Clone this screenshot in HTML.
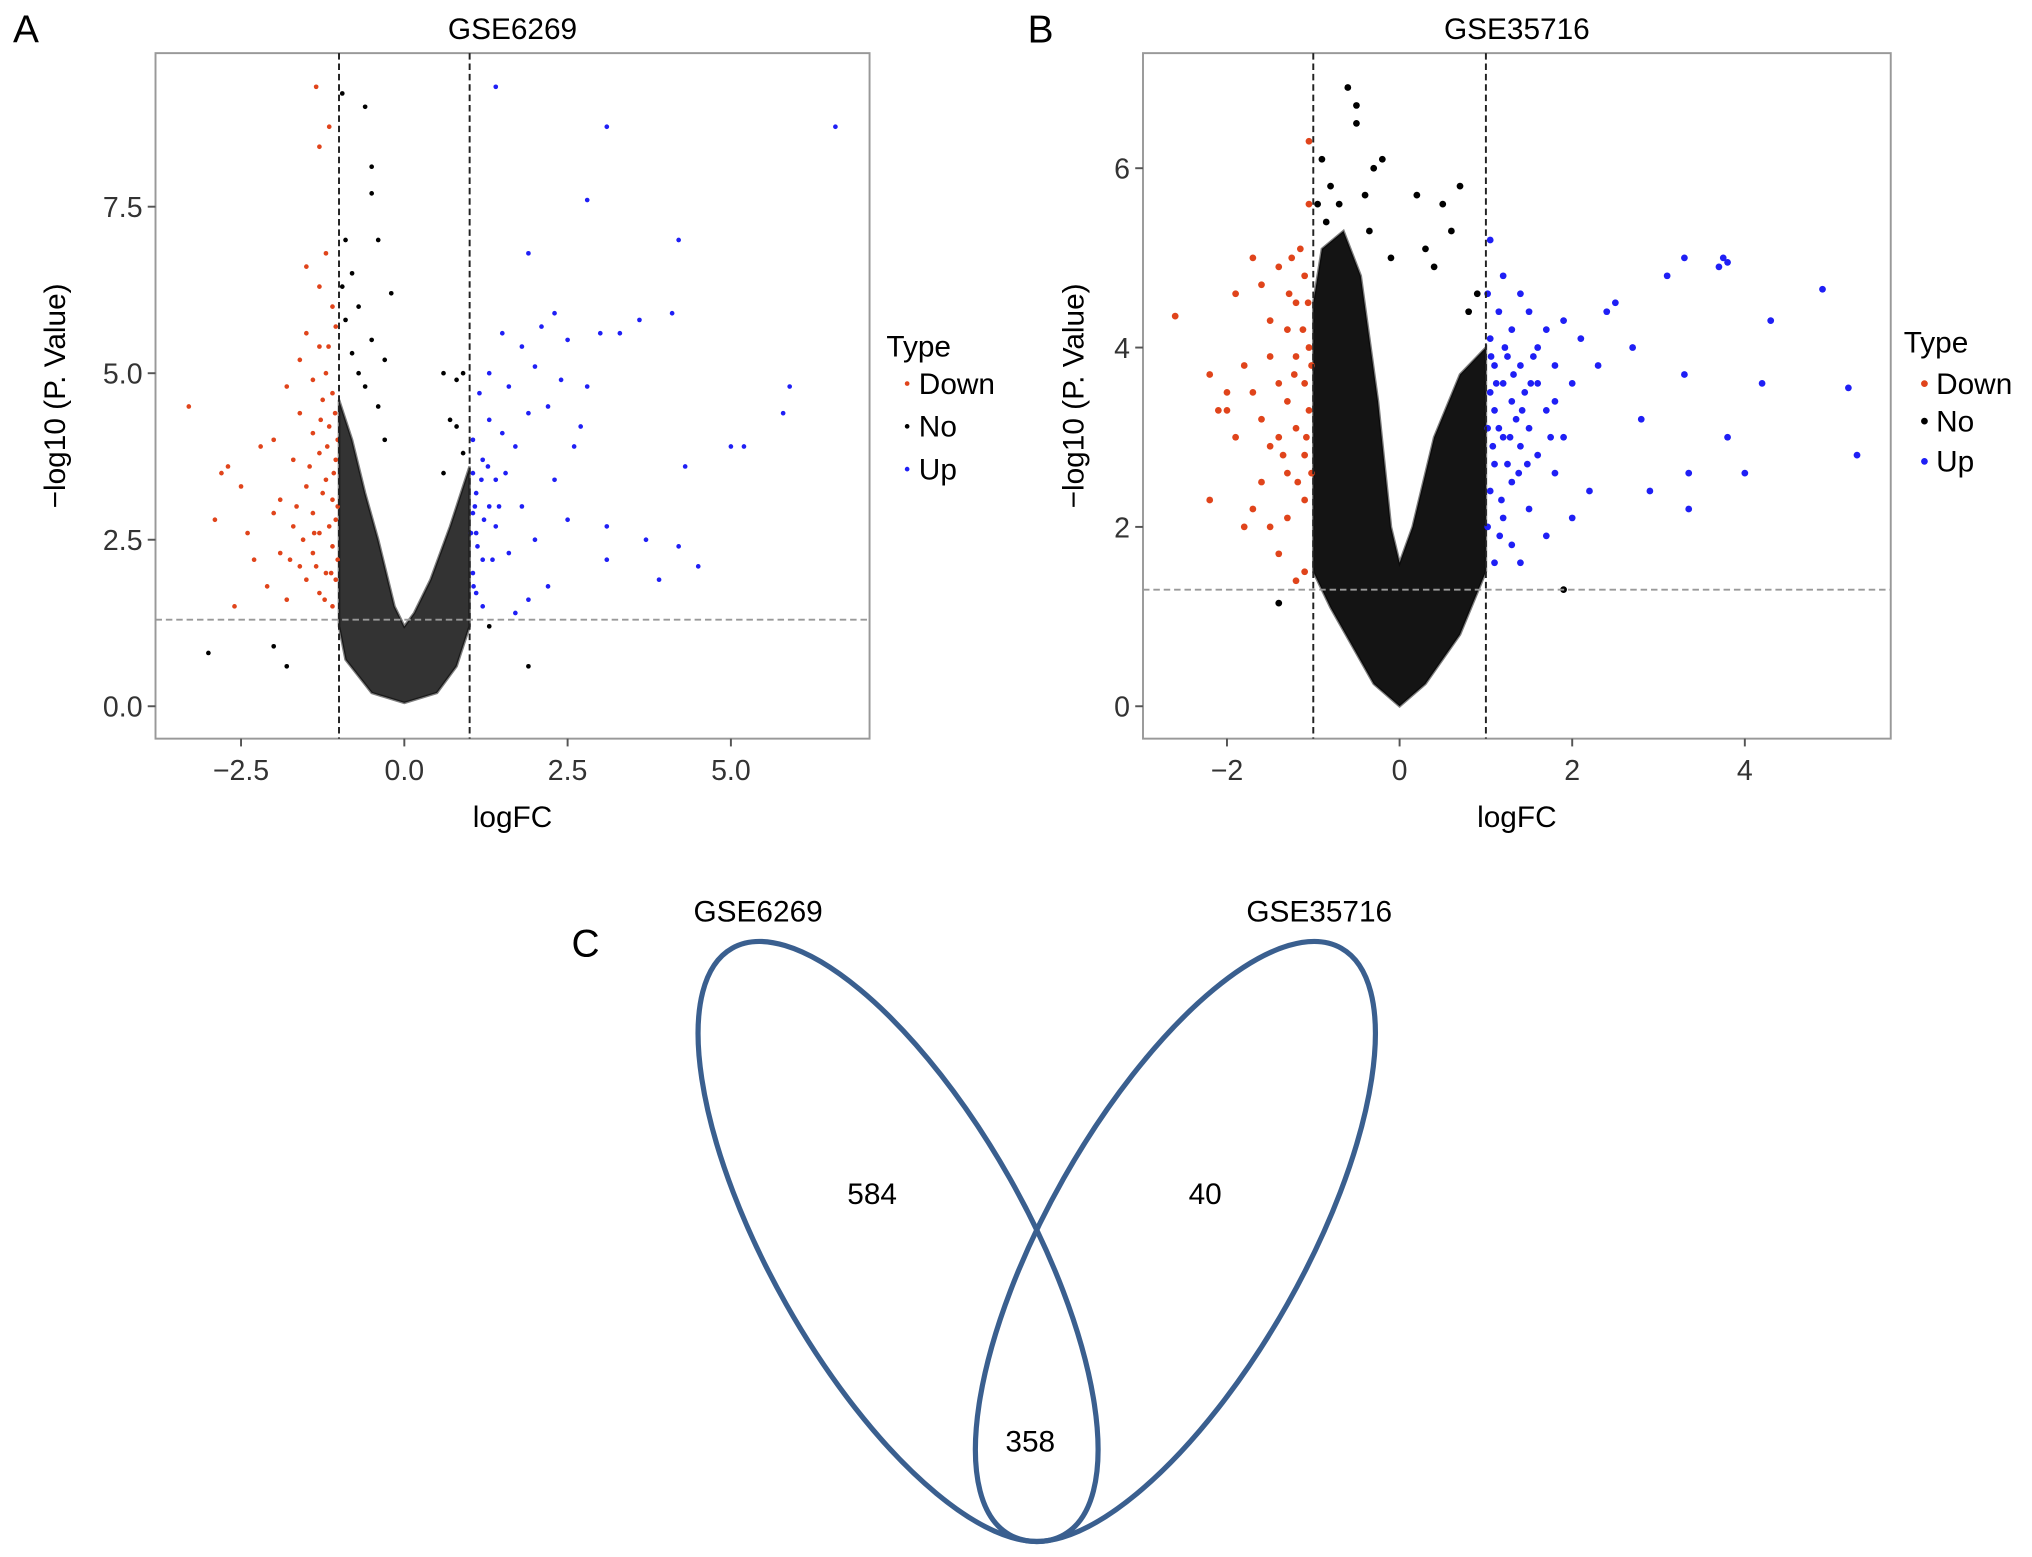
<!DOCTYPE html>
<html><head><meta charset="utf-8"><style>
html,body{margin:0;padding:0;background:#fff}
svg{display:block;font-family:"Liberation Sans",sans-serif}
</style></head><body>
<svg id="fig" width="2032" height="1557" viewBox="0 0 1568 1201.5" preserveAspectRatio="none" xmlns="http://www.w3.org/2000/svg">
<rect width="1568" height="1202" fill="#fff"/>
<g id="pA"></g>
<g id="pB"></g>
<text x="10" y="33" font-size="30">A</text>
<text x="793" y="33" font-size="30">B</text>
<text x="441" y="738" font-size="30">C</text>
<g>
<ellipse cx="693" cy="958" rx="99" ry="260" transform="rotate(-29.5 693 958)" fill="none" stroke="#3a5f8f" stroke-width="4"/>
<ellipse cx="907" cy="958" rx="99" ry="260" transform="rotate(29.5 907 958)" fill="none" stroke="#3a5f8f" stroke-width="4"/>
<text x="585" y="711" font-size="23" text-anchor="middle">GSE6269</text>
<text x="1018" y="711" font-size="23" text-anchor="middle">GSE35716</text>
<text x="673" y="929" font-size="23" text-anchor="middle">584</text>
<text x="930" y="929" font-size="23" text-anchor="middle">40</text>
<text x="795" y="1120" font-size="23" text-anchor="middle">358</text>
</g>
</svg>
<script>
// ---- Panel A data (GSE6269) ----
const aXTicks=[-2.5,0,2.5,5];
const aXTickLabels=["−2.5","0.0","2.5","5.0"];
const aYTicks=[0,2.5,5,7.5];
const aYTickLabels=["0.0","2.5","5.0","7.5"];
const aDown=[[-3.3,4.5],[-2.9,2.8],[-2.8,3.5],[-2.7,3.6],[-2.6,1.5],[-2.5,3.3],[-2.4,2.6],[-2.3,2.2],[-2.2,3.9],[-2.1,1.8],[-2.0,2.9],[-2.0,4.0],[-1.9,3.1],[-1.9,2.3],[-1.8,4.8],[-1.8,1.6],[-1.7,3.7],[-1.7,2.7],[-1.6,5.2],[-1.6,4.4],[-1.6,2.1],[-1.5,6.6],[-1.5,5.6],[-1.5,3.3],[-1.5,1.9],[-1.4,4.9],[-1.4,4.1],[-1.4,2.9],[-1.4,2.3],[-1.35,9.3],[-1.3,8.4],[-1.3,6.3],[-1.3,5.4],[-1.3,3.8],[-1.3,2.6],[-1.3,1.7],[-1.25,4.6],[-1.2,6.8],[-1.2,5.0],[-1.2,3.4],[-1.2,2.0],[-1.15,8.7],[-1.15,4.2],[-1.1,6.0],[-1.1,4.7],[-1.1,3.1],[-1.1,2.4],[-1.1,1.5],[-1.05,5.7],[-1.05,3.7],[-1.05,2.8],[-1.05,1.9],[-1.02,4.0],[-1.02,3.0],[-1.02,2.2],[-1.25,3.2],[-1.15,2.7],[-1.35,2.1],[-1.45,3.6],[-1.55,2.5],[-1.08,3.5],[-1.18,3.9],[-1.28,4.3],[-1.12,2.0],[-1.22,1.6],[-1.38,2.6],[-1.65,3.0],[-1.75,2.2],[-1.06,4.4],[-1.16,5.4]];
const aNo=[[-3.0,0.8],[-2.0,0.9],[-1.8,0.6],[-0.9,7.0],[-0.8,6.5],[-0.7,6.0],[-0.6,9.0],[-0.5,8.1],[-0.5,7.7],[-0.4,7.0],[-0.3,5.2],[-0.2,6.2],[-0.8,5.3],[-0.6,4.8],[-0.4,4.5],[0.6,5.0],[0.8,4.9],[0.9,5.0],[0.7,4.3],[-0.95,9.2],[1.9,0.6],[1.3,1.2],[-0.9,5.8],[-0.95,6.3],[-0.7,5.0],[-0.5,5.5],[-0.3,4.0],[0.8,4.2],[0.9,3.8],[0.6,3.5]];
const aUp=[[6.6,8.7],[3.1,8.7],[1.4,9.3],[2.8,7.6],[4.2,7.0],[1.9,6.8],[5.9,4.8],[5.8,4.4],[5.2,3.9],[5.0,3.9],[4.3,3.6],[4.5,2.1],[4.2,2.4],[3.9,1.9],[3.7,2.5],[3.1,2.7],[3.1,2.2],[4.1,5.9],[3.6,5.8],[3.3,5.6],[3.0,5.6],[2.3,5.9],[2.1,5.7],[2.5,5.5],[2.4,4.9],[2.7,4.2],[2.2,4.5],[2.0,5.1],[1.9,4.4],[1.8,5.4],[1.7,3.9],[1.6,4.8],[1.5,5.6],[1.5,4.1],[1.4,3.4],[1.4,2.7],[1.3,5.0],[1.3,4.3],[1.3,3.0],[1.2,3.7],[1.2,2.2],[1.15,4.7],[1.1,3.2],[1.1,2.6],[1.1,1.7],[1.05,4.0],[1.05,3.5],[1.05,2.9],[1.05,2.0],[1.6,2.3],[1.8,3.0],[2.0,2.5],[2.2,1.8],[2.3,3.4],[2.5,2.8],[2.6,3.9],[1.9,1.6],[2.8,4.8],[1.7,1.4],[1.2,1.5],[1.08,3.0],[1.12,2.4],[1.18,3.4],[1.22,2.8],[1.28,3.6],[1.35,2.2],[1.45,3.0],[1.55,3.5],[1.02,2.6],[1.06,1.8]];
const aEnvelope=[[-1.0,4.6],[-0.8,4.0],[-0.6,3.2],[-0.4,2.5],[-0.15,1.5],[0,1.2],[0.15,1.4],[0.4,1.9],[0.7,2.7],[1.0,3.6],[1.0,1.2],[0.8,0.6],[0.5,0.2],[0,0.05],[-0.5,0.2],[-0.9,0.7],[-1.0,1.2]];
// ---- Panel B data (GSE35716) ----
const bXTicks=[-2,0,2,4];
const bXTickLabels=["−2","0","2","4"];
const bYTicks=[0,2,4,6];
const bYTickLabels=["0","2","4","6"];
const bDown=[[-2.6,4.35],[-2.2,3.7],[-2.2,2.3],[-2.1,3.3],[-2.0,3.5],[-2.0,3.3],[-1.9,4.6],[-1.9,3.0],[-1.8,3.8],[-1.8,2.0],[-1.7,5.0],[-1.7,3.5],[-1.7,2.2],[-1.6,4.7],[-1.6,3.2],[-1.6,2.5],[-1.5,4.3],[-1.5,3.9],[-1.5,2.9],[-1.5,2.0],[-1.4,4.9],[-1.4,3.6],[-1.4,3.0],[-1.4,1.7],[-1.3,4.2],[-1.3,3.4],[-1.3,2.6],[-1.3,2.1],[-1.25,5.0],[-1.2,4.5],[-1.2,3.9],[-1.2,3.1],[-1.2,1.4],[-1.15,5.1],[-1.1,4.8],[-1.1,3.6],[-1.1,2.8],[-1.1,2.3],[-1.05,6.3],[-1.05,5.6],[-1.05,4.0],[-1.05,3.3],[-1.02,3.8],[-1.02,2.6],[-1.1,1.5],[-1.08,3.0],[-1.12,4.2],[-1.18,2.5],[-1.22,3.7],[-1.28,4.6],[-1.35,2.8],[-1.06,4.5]];
const bNo=[[-0.6,6.9],[-0.5,6.7],[-0.5,6.5],[-0.3,6.0],[-0.2,6.1],[0.7,5.8],[0.5,5.6],[0.6,5.3],[0.3,5.1],[0.2,5.7],[-0.9,6.1],[-0.8,5.8],[-0.4,5.7],[-0.7,5.6],[0.4,4.9],[0.9,4.6],[-1.4,1.15],[1.9,1.3],[-0.1,5.0],[-0.95,5.6],[-0.85,5.4],[-0.35,5.3],[0.8,4.4]];
const bUp=[[4.9,4.65],[5.2,3.55],[5.3,2.8],[4.3,4.3],[4.2,3.6],[4.0,2.6],[3.8,3.0],[3.7,4.9],[3.75,5.0],[3.8,4.95],[3.3,5.0],[3.35,2.2],[3.35,2.6],[3.3,3.7],[3.1,4.8],[2.9,2.4],[2.8,3.2],[2.7,4.0],[2.5,4.5],[2.4,4.4],[2.3,3.8],[2.2,2.4],[2.1,4.1],[2.0,3.6],[2.0,2.1],[1.9,3.0],[1.9,4.3],[1.8,3.8],[1.8,2.6],[1.7,4.2],[1.7,3.3],[1.7,1.9],[1.6,3.6],[1.6,2.8],[1.5,4.4],[1.5,3.1],[1.5,2.2],[1.4,4.6],[1.4,3.8],[1.4,2.9],[1.4,1.6],[1.3,4.2],[1.3,3.4],[1.3,2.5],[1.3,1.8],[1.25,3.9],[1.2,4.8],[1.2,3.6],[1.2,3.0],[1.2,2.1],[1.15,4.4],[1.1,3.8],[1.1,3.3],[1.1,2.7],[1.1,1.6],[1.05,5.2],[1.05,4.1],[1.05,3.5],[1.05,2.4],[1.02,4.6],[1.02,3.1],[1.02,2.0],[1.6,4.0],[1.8,3.4],[1.35,3.2],[1.45,3.5],[1.25,2.7],[1.15,3.1],[1.55,3.9],[1.75,3.0],[1.08,2.9],[1.12,3.6],[1.18,2.3],[1.22,4.0],[1.28,3.0],[1.32,3.7],[1.38,2.6],[1.42,3.3],[1.48,2.7],[1.52,3.6],[1.06,3.9],[1.16,1.9]];
const bEnvelope=[[-1.0,4.5],[-0.9,5.1],[-0.65,5.3],[-0.45,4.8],[-0.25,3.4],[-0.1,2.0],[0,1.6],[0.15,2.0],[0.4,3.0],[0.7,3.7],[1.0,4.0],[1.0,1.5],[0.7,0.8],[0.3,0.25],[0,0.0],[-0.3,0.25],[-0.8,1.1],[-1.0,1.5]];

const NS="http://www.w3.org/2000/svg";
function mk(tag,attrs,parent){const e=document.createElementNS(NS,tag);for(const k in attrs)e.setAttribute(k,attrs[k]);parent.appendChild(e);return e;}

function drawPanel(g,cfg){
  const sx=v=>cfg.x0+v*cfg.kx, sy=v=>cfg.y0-v*cfg.ky;
  const frame=mk('rect',{x:cfg.L,y:cfg.T,width:cfg.R-cfg.L,height:cfg.B-cfg.T,fill:'#fff',stroke:'#999','stroke-width':1.5},g);
  
  
  const env=mk('polygon',{points:cfg.env.map(p=>sx(p[0])+','+sy(p[1])).join(' '),fill:'#000','fill-opacity':cfg.op,stroke:'#000','stroke-width':2,'stroke-opacity':0.5},g);
  
  
  const groups=[[cfg.down,'#e0441b','down'],[cfg.no,'#000','no'],[cfg.up,'#1f1ff5','up']];
  groups.forEach(([arr,col,nm])=>{
    arr.forEach(p=>{
      const c=mk('circle',{cx:sx(p[0]),cy:sy(p[1]),r:cfg.r,fill:col},g);
      
      
    });
  });
  [-1,1].forEach(v=>{
    const l=mk('line',{x1:sx(v),x2:sx(v),y1:cfg.T,y2:cfg.B,stroke:'#222','stroke-width':1.5,'stroke-dasharray':'5,3'},g);
    
    
  });
  const h=mk('line',{x1:cfg.L,x2:cfg.R,y1:sy(1.3),y2:sy(1.3),stroke:'#999','stroke-width':1.5,'stroke-dasharray':'5,3'},g);
  
  
  cfg.xt.forEach((v,i)=>{
    mk('line',{x1:sx(v),x2:sx(v),y1:cfg.B,y2:cfg.B+6,stroke:'#555','stroke-width':1.5},g);
    const t=mk('text',{x:sx(v),y:cfg.B+32,'font-size':22,'text-anchor':'middle',fill:'#333'},g);
    t.textContent=cfg.xl[i];
    
    
  });
  cfg.yt.forEach((v,i)=>{
    mk('line',{x1:cfg.L-6,x2:cfg.L,y1:sy(v),y2:sy(v),stroke:'#555','stroke-width':1.5},g);
    const t=mk('text',{x:cfg.L-10,y:sy(v)+8,'font-size':22,'text-anchor':'end',fill:'#333'},g);
    t.textContent=cfg.yl[i];
    
    
  });
  const ti=mk('text',{x:(cfg.L+cfg.R)/2,y:30,'font-size':23,'text-anchor':'middle'},g);
  ti.textContent=cfg.title;
  
  
  const xl=mk('text',{x:(cfg.L+cfg.R)/2,y:638,'font-size':23,'text-anchor':'middle'},g);
  xl.textContent='logFC';
  
  
  const yl=mk('text',{x:0,y:0,'font-size':23,'text-anchor':'middle',transform:`translate(${cfg.ylx},${(cfg.T+cfg.B)/2}) rotate(-90)`},g);
  yl.textContent='−log10 (P. Value)';
  
  
  const lt=mk('text',{x:cfg.lgx,y:cfg.lgy[0]+8,'font-size':23},g);
  lt.textContent='Type';
  
  
  [['Down','#e0441b'],['No','#000'],['Up','#1f1ff5']].forEach(([lab,col],i)=>{
    const y=cfg.lgy[i+1];
    const d=mk('circle',{cx:cfg.lgx+16,cy:y,r:cfg.r,fill:col},g);
    
    
    const t=mk('text',{x:cfg.lgx+25,y:y+8,'font-size':23},g);
    t.textContent=lab;
    
    
  });
}
drawPanel(document.getElementById('pA'),{L:120,R:671,T:41,B:570,x0:312,kx:50.4,y0:545,ky:51.4,r:1.8,op:0.8,
  env:aEnvelope,down:aDown,no:aNo,up:aUp,xt:aXTicks,xl:aXTickLabels,yt:aYTicks,yl:aYTickLabels,
  title:'GSE6269',ylx:50,lgx:684,lgy:[267,296,329,362]});
drawPanel(document.getElementById('pB'),{L:882,R:1459,T:41,B:570,x0:1080,kx:66.6,y0:545,ky:69.2,r:2.6,op:0.92,
  env:bEnvelope,down:bDown,no:bNo,up:bUp,xt:bXTicks,xl:bXTickLabels,yt:bYTicks,yl:bYTickLabels,
  title:'GSE35716',ylx:836,lgx:1469,lgy:[264,296,325,356]});
</script>
</body></html>
